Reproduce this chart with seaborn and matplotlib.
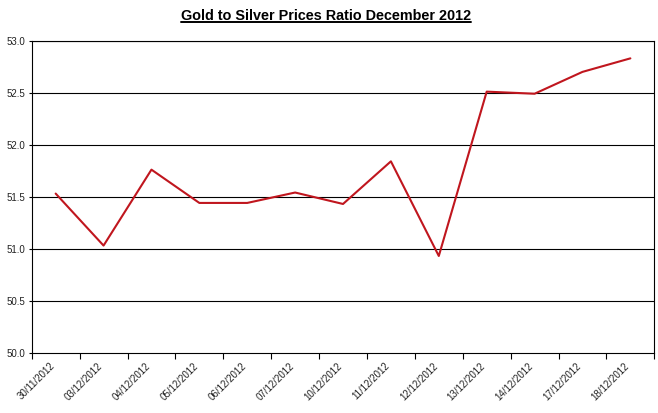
import matplotlib
import matplotlib.pyplot as plt
import pandas as pd
import seaborn as sns
from matplotlib.ticker import FormatStrFormatter
from matplotlib.transforms import ScaledTranslation

matplotlib.use("Agg")

# --- DATA ---
DATES = [
    "30/11/2012", "03/12/2012", "04/12/2012", "05/12/2012", "06/12/2012",
    "07/12/2012", "10/12/2012", "11/12/2012", "12/12/2012", "13/12/2012",
    "14/12/2012", "17/12/2012", "18/12/2012",
]
RATIO = [51.53, 51.03, 51.76, 51.44, 51.44, 51.54, 51.43, 51.84, 50.93,
         52.51, 52.49, 52.70, 52.83]
Y_TICKS = [50.0, 50.5, 51.0, 51.5, 52.0, 52.5, 53.0]

TITLE = "Gold to Silver Prices Ratio December 2012"
LINE_COLOR = "#C0161E"

df = pd.DataFrame({"date": DATES, "ratio": RATIO})

sns.set_theme(style="white")
plt.rcParams["font.family"] = ["Liberation Sans", "DejaVu Sans"]

fig = plt.figure(figsize=(6.58, 4.13), dpi=100)
ax = fig.add_axes([0.0482, 0.146, 0.9462, 0.7555])

sns.lineplot(data=df, x="date", y="ratio", sort=False, ax=ax,
             color=LINE_COLOR, linewidth=1.5)

ax.set_xlim(-0.5, len(DATES) - 0.5)
ax.set_ylim(Y_TICKS[0], Y_TICKS[-1])
ax.set_yticks(Y_TICKS)
ax.yaxis.set_major_formatter(FormatStrFormatter("%.1f"))
for y in Y_TICKS[1:]:
    ax.axhline(y, color="black", linewidth=0.8, zorder=0)

# category labels centred, tick marks on the boundaries
ax.set_xticks(range(len(DATES)))
ax.set_xticklabels(DATES, rotation=45, ha="right", rotation_mode="anchor")
ax.set_xticks([i - 0.5 for i in range(len(DATES) + 1)], minor=True)
ax.tick_params(axis="x", which="major", length=0, pad=6, labelsize=7,
               labelcolor="#222222")
ax.tick_params(axis="x", which="minor", length=4, width=0.8, direction="out",
               color="black", bottom=True)
ax.tick_params(axis="y", length=2.5, width=0.8, direction="out", pad=2,
               labelsize=7, labelcolor="#222222", left=True, color="black")
shift = ScaledTranslation(-4.5 / 72, 0, fig.dpi_scale_trans)
for lbl in ax.get_xticklabels():
    lbl.set_transform(lbl.get_transform() + shift)

ax.set_xlabel("")
ax.set_ylabel("")
for side in ["left", "right", "top", "bottom"]:
    ax.spines[side].set_visible(True)
    ax.spines[side].set_color("black")
    ax.spines[side].set_linewidth(0.8)

title = fig.text(0.495, 0.951, TITLE, ha="center", va="baseline",
                 fontsize=10.4, fontweight="bold", color="black")
fig.canvas.draw()
bb = title.get_window_extent()
# underline under the title
fig.add_artist(plt.Line2D([bb.x0 / fig.bbox.width, bb.x1 / fig.bbox.width],
                          [0.946, 0.946],
                          transform=fig.transFigure, color="black", linewidth=1.4))

fig.savefig("out.png", dpi=100)
plt.close(fig)
